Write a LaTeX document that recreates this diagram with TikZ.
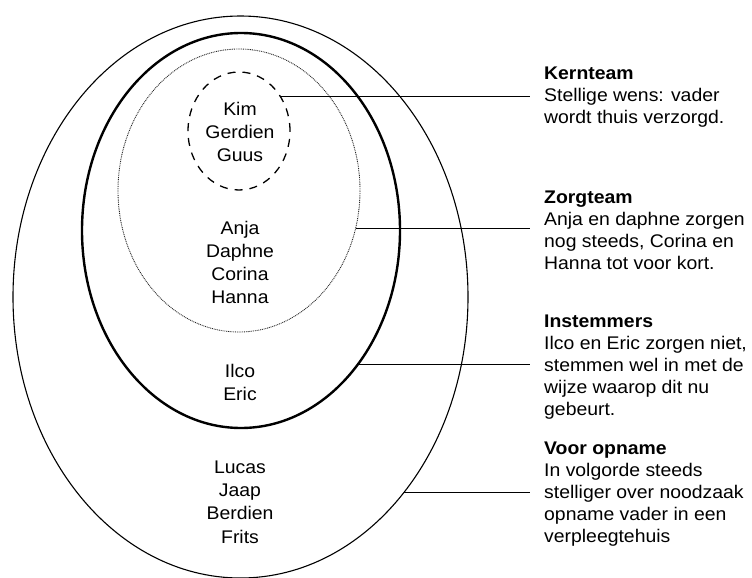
\documentclass[tikz,border=0pt]{standalone}
\usepackage{fontspec}
\setmainfont[FakeStretch=1.06]{Liberation Sans}
\usetikzlibrary{shapes.geometric}
\begin{document}
\begin{tikzpicture}[x=1pt,y=-1pt,
  ring/.style={ellipse,inner sep=0pt,outer sep=0pt},
  names/.style={align=center,inner sep=0pt,font=\fontsize{18.3}{23.3}\selectfont},
  note/.style={align=left,anchor=north west,inner sep=0pt,font=\fontsize{18.3}{22}\selectfont},
  lead/.style={line width=1.1pt}]
\useasboundingbox (0,0) rectangle (752,578);

% nested circles of involvement
\node[ring,draw,line width=1.1pt,minimum width=455pt,minimum height=562pt] (outer) at (240.5,297) {};
\node[ring,draw,line width=2.4pt,minimum width=318pt,minimum height=395pt] (agree) at (241,230.5) {};
\node[ring,draw=black!85,line width=0.9pt,dash pattern=on 0.9pt off 0.9pt,minimum width=242pt,minimum height=283pt] (care) at (239,190.5) {};
\node[ring,draw,line width=1.3pt,dash pattern=on 8pt off 7pt,minimum width=102pt,minimum height=118pt] (core) at (239,131) {};

% names in each ring
\node[names] (n1) at (240,132) {Kim\\Gerdien\\Guus};
\node[names] (n2) at (240,262.5) {Anja\\Daphne\\Corina\\Hanna};
\node[names] (n3) at (240,382.5) {Ilco\\Eric};
\node[names] (n4) at (240,502) {Lucas\\Jaap\\Berdien\\Frits};

% explanations
\node[note] (t1) at (544,66.5) {\textbf{Kernteam}\\Stellige wens: vader\\wordt thuis verzorgd.};
\node[note] (t2) at (544,190.5) {\textbf{Zorgteam}\\Anja en daphne zorgen\\nog steeds, Corina en\\Hanna tot voor kort.};
\node[note] (t3) at (544,314.5) {\textbf{Instemmers}\\Ilco en Eric zorgen niet,\\stemmen wel in met de\\wijze waarop dit nu\\gebeurt.};
\node[note] (t4) at (544,441.5) {\textbf{Voor opname}\\In volgorde steeds\\stelliger over noodzaak\\opname vader in een\\verpleegtehuis};

% leader lines
\coordinate (lx) at (530,0);
\draw[lead] (core.40) -- (core.40 -| lx);
\draw[lead] (care.-18) -- (care.-18 -| lx);
\draw[lead] (agree.-49.6) -- (agree.-49.6 -| lx);
\draw[lead] (outer.-50.3) -- (outer.-50.3 -| lx);
\end{tikzpicture}
\end{document}
